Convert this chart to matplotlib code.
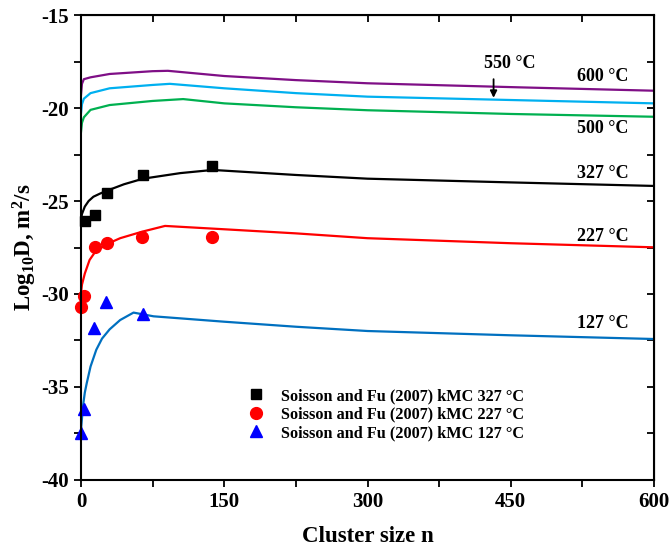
import matplotlib
matplotlib.use("Agg")
import matplotlib.pyplot as plt

plt.rcParams['font.family'] = ['Liberation Serif', 'DejaVu Serif']
plt.rcParams['font.weight'] = 'bold'
plt.rcParams['axes.unicode_minus'] = False
plt.rcParams['mathtext.fontset'] = 'custom'
plt.rcParams['mathtext.rm'] = 'Liberation Serif:bold'
plt.rcParams['mathtext.bf'] = 'Liberation Serif:bold'
plt.rcParams['mathtext.default'] = 'bf'

# model curves (cluster size n, log10 D)
x_600 = [0, 1, 3, 10, 30, 75, 91, 150, 225, 300, 460, 600]
y_600 = [-19.3, -18.7, -18.45, -18.35, -18.17, -18.02, -18.0, -18.28, -18.5, -18.67, -18.89, -19.07]

x_550 = [0, 1, 3, 10, 30, 75, 93, 150, 225, 300, 450, 600]
y_550 = [-20.3, -19.8, -19.5, -19.2, -18.94, -18.76, -18.7, -18.94, -19.2, -19.39, -19.57, -19.75]

x_500 = [0, 1, 3, 10, 30, 75, 107, 150, 225, 300, 450, 600]
y_500 = [-21.3, -20.8, -20.5, -20.1, -19.84, -19.62, -19.52, -19.75, -19.96, -20.12, -20.32, -20.47]

x_327 = [0, 1, 4, 8, 13, 20, 27, 45, 65, 104, 138, 225, 300, 450, 600]
y_327 = [-26.0, -25.7, -25.3, -25.0, -24.77, -24.6, -24.45, -24.1, -23.8, -23.5, -23.33, -23.6, -23.8, -24.0, -24.19]

x_227 = [0, 1, 4, 9, 14, 20, 30, 41, 64, 88, 150, 225, 300, 450, 600]
y_227 = [-29.95, -29.5, -28.9, -28.17, -27.8, -27.55, -27.25, -27.0, -26.65, -26.34, -26.52, -26.74, -27.0, -27.27, -27.49]

x_127 = [0, 1, 2, 4, 6, 10, 16, 22, 30, 41, 55, 76, 150, 225, 300, 450, 600]
y_127 = [-37.3, -36.7, -36.06, -35.3, -34.8, -33.9, -33.0, -32.4, -31.9, -31.4, -31.0, -31.2, -31.49, -31.76, -31.99, -32.22, -32.42]

# Soisson and Fu (2007) kMC points
kmc_n_327 = [4, 15, 27, 65, 137]
kmc_d_327 = [-26.1, -25.75, -24.55, -23.6, -23.1]

kmc_n_227 = [0, 3, 15, 27, 64, 137]
kmc_d_227 = [-30.7, -30.1, -27.45, -27.27, -26.95, -26.95]

kmc_n_127 = [0, 3, 14, 26, 65]
kmc_d_127 = [-37.5, -36.2, -31.85, -30.45, -31.1]

fig = plt.figure(figsize=(6.71, 5.46), dpi=100)
ax = fig.add_axes([0.1207, 0.1209, 0.854, 0.8516])

ax.plot(x_600, y_600, color='#7f0f86', lw=1.6)
ax.plot(x_550, y_550, color='#00b0f0', lw=1.6)
ax.plot(x_500, y_500, color='#00b050', lw=1.6)
ax.plot(x_327, y_327, color='black', lw=1.6)
ax.plot(x_227, y_227, color='#ff0000', lw=1.6)
ax.plot(x_127, y_127, color='#0070c0', lw=1.6)

ax.plot(kmc_n_327, kmc_d_327, 's', color='black', ms=7.5, ls='none', clip_on=False,
        label='Soisson and Fu (2007) kMC 327 \u00b0C')
ax.plot(kmc_n_227, kmc_d_227, 'o', color='#ff0000', ms=8.5, ls='none', clip_on=False,
        label='Soisson and Fu (2007) kMC 227 \u00b0C')
ax.plot(kmc_n_127, kmc_d_127, '^', color='#0000ff', ms=9, ls='none', clip_on=False,
        label='Soisson and Fu (2007) kMC 127 \u00b0C')

ax.set_xlim(0, 600)
ax.set_ylim(-40, -15)
ax.set_xticks([0, 150, 300, 450, 600])
ax.set_xticks([75, 225, 375, 525], minor=True)
ax.set_yticks([-40, -35, -30, -25, -20, -15])
ax.set_yticks([-37.5, -32.5, -27.5, -22.5, -17.5], minor=True)
ax.tick_params(axis='both', which='both', direction='out', length=5, width=1.3,
               labelsize=15, top=False, right=False)
for sp in ax.spines.values():
    sp.set_linewidth(1.5)

# inward ticks on top and right
axt = ax.secondary_xaxis('top')
axt.set_xticks([0, 75, 150, 225, 300, 375, 450, 525, 600])
axt.tick_params(direction='in', length=5, width=1.3, labeltop=False)
axr = ax.secondary_yaxis('right')
axr.set_yticks([-40, -37.5, -35, -32.5, -30, -27.5, -25, -22.5, -20, -17.5, -15])
axr.tick_params(direction='in', length=5, width=1.3, labelright=False)

ax.set_xlabel('Cluster size n', fontsize=16.5, fontweight='bold', labelpad=10)
ax.set_ylabel('Log$_{10}$D, m$^{2}$/s', fontsize=16.5,
              fontweight='bold', labelpad=2)

lab = dict(fontsize=13, fontweight='bold', ha='center', va='center')
ax.text(546, -18.33, '600 \u00b0C', **lab)
ax.text(546, -21.08, '500 \u00b0C', **lab)
ax.text(546, -23.5, '327 \u00b0C', **lab)
ax.text(546, -26.9, '227 \u00b0C', **lab)
ax.text(546, -31.6, '127 \u00b0C', **lab)
ax.text(449, -17.6, '550 \u00b0C', **lab)
ax.annotate('', xy=(432, -19.6), xytext=(432, -18.3),
            arrowprops=dict(arrowstyle='-|>', color='black', lw=1.3,
                            mutation_scale=10))

ax.legend(loc='upper left', bbox_to_anchor=(0.27, 0.215), frameon=False,
          fontsize=11.7, handletextpad=0.8, labelspacing=0.15, borderpad=0,
          handlelength=1.5)

fig.savefig('out.png', dpi=100)
